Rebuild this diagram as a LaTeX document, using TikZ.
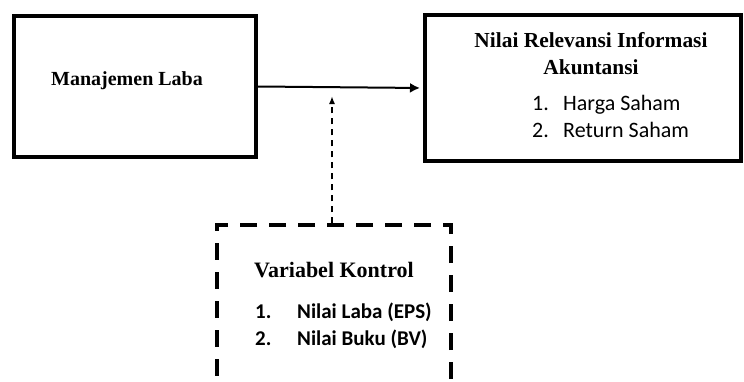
\documentclass[tikz,border=0pt]{standalone}
\usepackage{fontspec}
\setmainfont{Liberation Serif}
\newfontfamily\calibri{Carlito}
\usetikzlibrary{arrows.meta,calc}

\begin{document}
\begin{tikzpicture}[x=1pt,y=-1pt,
    varbox/.style={draw,line width=4pt,minimum width=#1,inner sep=0pt},
    ctrlbox/.style={draw,line width=3.5pt,dash pattern=on 17pt off 12pt,minimum width=234pt,minimum height=210pt,inner sep=0pt},
    title/.style={font=\fontsize{#1}{27}\selectfont\bfseries,anchor=base,inner sep=0pt},
    title/.default=20,
    items/.style={font=\calibri\fontsize{22}{27}\selectfont,align=left,anchor=base west,inner sep=0pt}]
  \useasboundingbox (0,0) rectangle (744,381);
  \clip (0,0) rectangle (744,381);
  % boxes
  \node[varbox=242pt,minimum height=141pt] (laba) at (135,86.5) {};
  \node[varbox=316pt,minimum height=146pt] (relevansi) at (583,88) {};
  \node[ctrlbox] (kontrol) at (334,330) {};
  % texts (base = last line)
  \node[title] (labatext) at (127,85) {Manajemen Laba};
  \node[title=21.4,align=center] (relevansitext) at (591,74) {Nilai Relevansi Informasi\\Akuntansi};
  \node[items] (relevansilist) at (532,137) {\makebox[31pt][l]{1.}Harga Saham\\\makebox[31pt][l]{2.}Return Saham};
  \node[title=22] (kontroltext) at (334,277) {Variabel Kontrol};
  \node[items,font=\calibri\fontsize{21}{27}\selectfont\bfseries] (kontrollist) at (255,345) {\makebox[42pt][l]{1.}Nilai Laba (EPS)\\\makebox[42pt][l]{2.}Nilai Buku (BV)};
  % arrows
  \draw[line width=2pt,-{Latex[length=10pt,width=10pt]},shorten >=3pt] (laba.east) -- (relevansi.west);
  \coordinate (moderasi) at (332,96);
  \draw[line width=1.6pt,dash pattern=on 6pt off 5pt,-{Latex[length=8pt,width=6pt]}] (moderasi |- kontrol.north) -- (moderasi);
\end{tikzpicture}
\end{document}
